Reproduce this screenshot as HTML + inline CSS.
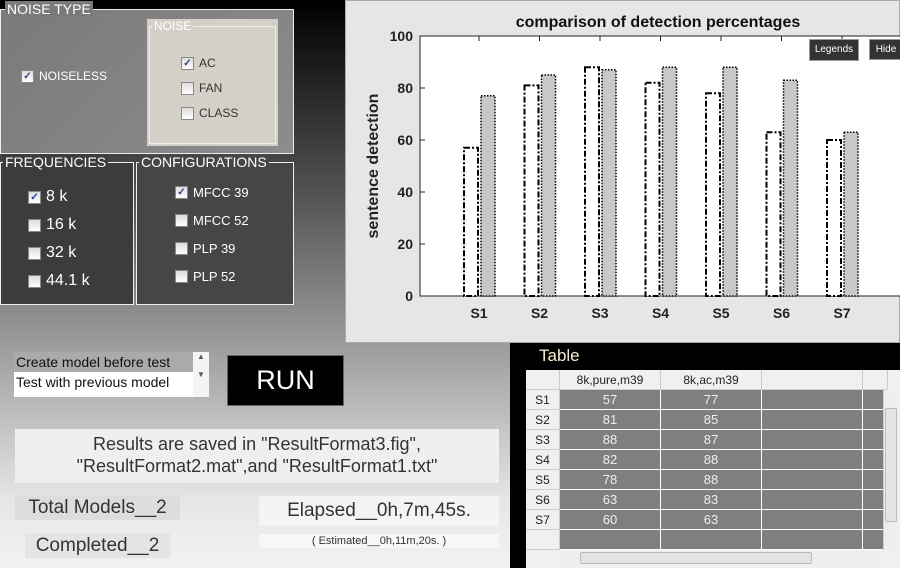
<!DOCTYPE html>
<html><head><meta charset="utf-8"><style>
body{margin:0;width:900px;height:568px;overflow:hidden;font-family:"Liberation Sans",sans-serif;position:relative;
background:linear-gradient(180deg,#000 0%,#555 35%,#9a9a9a 60%,#e6e6e6 88%,#f2f2f2 100%);}
.abs{position:absolute}
.grp{position:absolute;border:1px solid #eee;box-sizing:border-box}
.lbl{position:absolute;top:-9px;left:4px;font-size:14px;padding:0 2px;color:#fff}
.cb{position:absolute;display:flex;align-items:center;gap:5px;color:#fff}
.box{width:11px;height:11px;background:linear-gradient(#ddd,#fff);border:1px solid #888;font-size:10px;line-height:11px;text-align:center;color:#2a3f8f;font-weight:bold}
td{border-right:1px solid #fff;border-bottom:1px solid #fff;padding:0;text-align:center;height:19px;font-size:13px}
</style></head><body>
<div class="grp" style="left:0;top:9px;width:294px;height:145px;background:linear-gradient(135deg,#7a7a7a,#8c8c8c)">
 <div class="lbl" style="background:#7a7a7a">NOISE TYPE</div>
 <div class="cb" style="left:20px;top:59px;font-size:12px"><div class="box">✓</div>NOISELESS</div>
 <div class="abs" style="left:146px;top:9px;width:131px;height:127px;background:#d4d0c8">
  <div class="grp" style="left:2px;top:7px;width:127px;height:118px"></div>
  <div class="abs" style="left:5px;top:0;font-size:12px;color:#fff;background:#d4d0c8;padding:0 2px">NOISE</div>
  <div class="cb" style="left:34px;top:37px;font-size:12px;color:#333"><div class="box">✓</div>AC</div>
  <div class="cb" style="left:34px;top:62px;font-size:12px;color:#333"><div class="box"></div>FAN</div>
  <div class="cb" style="left:34px;top:87px;font-size:12px;color:#333"><div class="box"></div>CLASS</div>
 </div>
</div>
<div class="grp" style="left:0;top:162px;width:134px;height:143px;background:#3c3c3c">
 <div class="lbl" style="background:#3c3c3c;left:2px">FREQUENCIES</div>
 <div class="cb" style="left:27px;top:25px;font-size:16px"><div class="box">✓</div>8 k</div>
 <div class="cb" style="left:27px;top:53px;font-size:16px"><div class="box"></div>16 k</div>
 <div class="cb" style="left:27px;top:81px;font-size:16px"><div class="box"></div>32 k</div>
 <div class="cb" style="left:27px;top:109px;font-size:16px"><div class="box"></div>44.1 k</div>
</div>
<div class="grp" style="left:136px;top:162px;width:158px;height:143px;background:#464646">
 <div class="lbl" style="background:#464646;left:2px">CONFIGURATIONS</div>
 <div class="cb" style="left:38px;top:22px;font-size:13px"><div class="box">✓</div>MFCC 39</div>
 <div class="cb" style="left:38px;top:50px;font-size:13px"><div class="box"></div>MFCC 52</div>
 <div class="cb" style="left:38px;top:78px;font-size:13px"><div class="box"></div>PLP 39</div>
 <div class="cb" style="left:38px;top:106px;font-size:13px"><div class="box"></div>PLP 52</div>
</div>

<div class="abs" style="left:345px;top:0;width:555px;height:343px;background:#e6e6e6;border:1px solid #aaa;box-sizing:border-box">
<svg id="chart" width="555" height="343" style="position:absolute;left:-1px;top:-1px"></svg>
<div class="abs" style="left:463px;top:38px;width:48px;height:20px;background:#333;color:#fff;font-size:10px;line-height:20px;text-align:center;border:1px solid #999">Legends</div>
<div class="abs" style="left:523px;top:38px;width:32px;height:19px;background:#333;color:#fff;font-size:10px;line-height:19px;text-align:center;border:1px solid #999">Hide</div>
</div>

<div class="abs" style="left:14px;top:352px;width:195px;height:45px;background:#fff;font-size:14px;color:#111">
 <div style="background:#aaa;height:20px;padding-left:2px;line-height:20px;width:177px">Create model before test</div>
 <div style="padding-left:2px;line-height:20px">Test with previous model</div>
 <div class="abs" style="right:0;top:0;width:16px;height:45px;background:#f4f4f4;font-size:8px;text-align:center;color:#555">▲<br><br>▼</div>
</div>
<div class="abs" style="left:227px;top:355px;width:115px;height:49px;background:#000;border:1px solid #666;color:#fff;font-size:27px;line-height:49px;text-align:center">RUN</div>
<div class="abs" style="left:15px;top:429px;width:484px;height:54px;background:#efefef;color:#333;font-size:18px;text-align:center;line-height:22px;padding-top:4px;box-sizing:border-box">Results are saved in "ResultFormat3.fig",<br>"ResultFormat2.mat",and "ResultFormat1.txt"</div>
<div class="abs" style="left:15px;top:495px;width:165px;height:25px;background:#ddd;color:#333;font-size:19px;line-height:25px;text-align:center">Total Models__2</div>
<div class="abs" style="left:25px;top:533px;width:145px;height:25px;background:#e4e4e4;color:#333;font-size:19px;line-height:25px;text-align:center">Completed__2</div>
<div class="abs" style="left:259px;top:496px;width:240px;height:30px;background:#f4f4f4;color:#333;font-size:19px;line-height:30px;text-align:center">Elapsed__0h,7m,45s.</div>
<div class="abs" style="left:259px;top:534px;width:240px;height:14px;background:#f7f7f7;color:#333;font-size:11px;line-height:14px;text-align:center">( Estimated__0h,11m,20s. )</div>

<div class="abs" style="left:510px;top:343px;width:390px;height:225px;background:#000">
 <div class="abs" style="left:29px;top:3px;color:#f4ecd0;font-size:17px">Table</div>
 <div class="abs" style="left:16px;top:27px;width:374px;height:198px;background:#f0f0f0;overflow:hidden">
  <table id="tbl" style="border-collapse:collapse;position:absolute;left:0;top:0;font-family:'Liberation Sans',sans-serif"></table>
  <div class="abs" style="left:357px;top:20px;width:14px;height:160px;background:#eee;border-left:1px solid #ccc"><div style="margin:18px 1px;height:112px;background:#e4e4e4;border:1px solid #bbb;border-radius:2px"></div></div>
  <div class="abs" style="left:34px;top:180px;width:323px;height:15px;background:#eee"><div style="margin:2px 20px 0 20px;width:230px;height:10px;background:#e4e4e4;border:1px solid #bbb;border-radius:2px"></div></div>
 </div>
</div>
<script>
const categories=["S1","S2","S3","S4","S5","S6","S7"];
const seriesPure=[57,81,88,82,78,63,60];
const seriesAc=[77,85,87,88,88,83,63];
const yTicks=[0,20,40,60,80,100];
const colHeaders=["8k,pure,m39","8k,ac,m39","",""];
const NS="http://www.w3.org/2000/svg";
const svg=document.getElementById('chart');
const L=75,R=556,T=36,B=296;
const y=v=>B-(v/100)*(B-T);
const xc=i=>134+i*60.5;
function mk(t,a){const e=document.createElementNS(NS,t);for(const k in a)e.setAttribute(k,a[k]);svg.appendChild(e);return e;}
const plot=mk('rect',{x:L,y:T,width:R-L,height:B-T,fill:'#fff',stroke:'#222'});


const title=mk('text',{x:313,y:27,'text-anchor':'middle','font-size':16,'font-weight':'bold',fill:'#111'});
title.textContent='comparison of detection percentages';


const yt=mk('text',{x:0,y:0,transform:'translate(33,166) rotate(-90)','text-anchor':'middle','font-size':16,'font-weight':'bold',fill:'#222'});
yt.textContent='sentence detection';


yTicks.forEach(v=>{
 const t=mk('text',{x:68,y:y(v)+5,'text-anchor':'end','font-size':14,'font-weight':'bold',fill:'#222'});
 t.textContent=v;
 
 
 mk('line',{x1:L,x2:L+5,y1:y(v),y2:y(v),stroke:'#222'});
});
categories.forEach((c,i)=>{
 const cx=xc(i);
 const t=mk('text',{x:cx,y:318,'text-anchor':'middle','font-size':14,'font-weight':'bold',fill:'#222'});
 t.textContent=c;
 
 
 mk('line',{x1:cx,x2:cx,y1:T,y2:T+5,stroke:'#222'});
 const b1=mk('rect',{x:cx-15,y:y(seriesPure[i]),width:14,height:B-y(seriesPure[i]),fill:'#fff',stroke:'#000','stroke-width':2,'stroke-dasharray':'6,2,2,2'});
 
 
 const b2=mk('rect',{x:cx+2,y:y(seriesAc[i]),width:14,height:B-y(seriesAc[i]),fill:'#c8c8c8',stroke:'#000','stroke-width':1.5,'stroke-dasharray':'1.5,1.5'});
 
 
});
const tbl=document.getElementById('tbl');
const widths=[33,100,100,100,24];
let h='<tr style="background:#f0f0f0">'+widths.map((w,j)=>`<td style="width:${w}px;border-right:1px solid #ccc;border-bottom:1px solid #ccc;font-size:12px;color:#222">${j?colHeaders[j-1]||'':''}</td>`).join('')+'</tr>';
for(let i=0;i<8;i++){
 h+='<tr><td style="background:#f0f0f0;border-right:1px solid #ccc;border-bottom:1px solid #ccc;font-size:12px;color:#222">'+(categories[i]||'')+'</td>';
 h+=`<td style="background:#7f7f7f;color:#eee">${i<7?seriesPure[i]:''}</td><td style="background:#7f7f7f;color:#eee">${i<7?seriesAc[i]:''}</td><td style="background:#7f7f7f"></td><td style="background:#7f7f7f"></td></tr>`;
}
tbl.innerHTML=h;
</script>
</body></html>
